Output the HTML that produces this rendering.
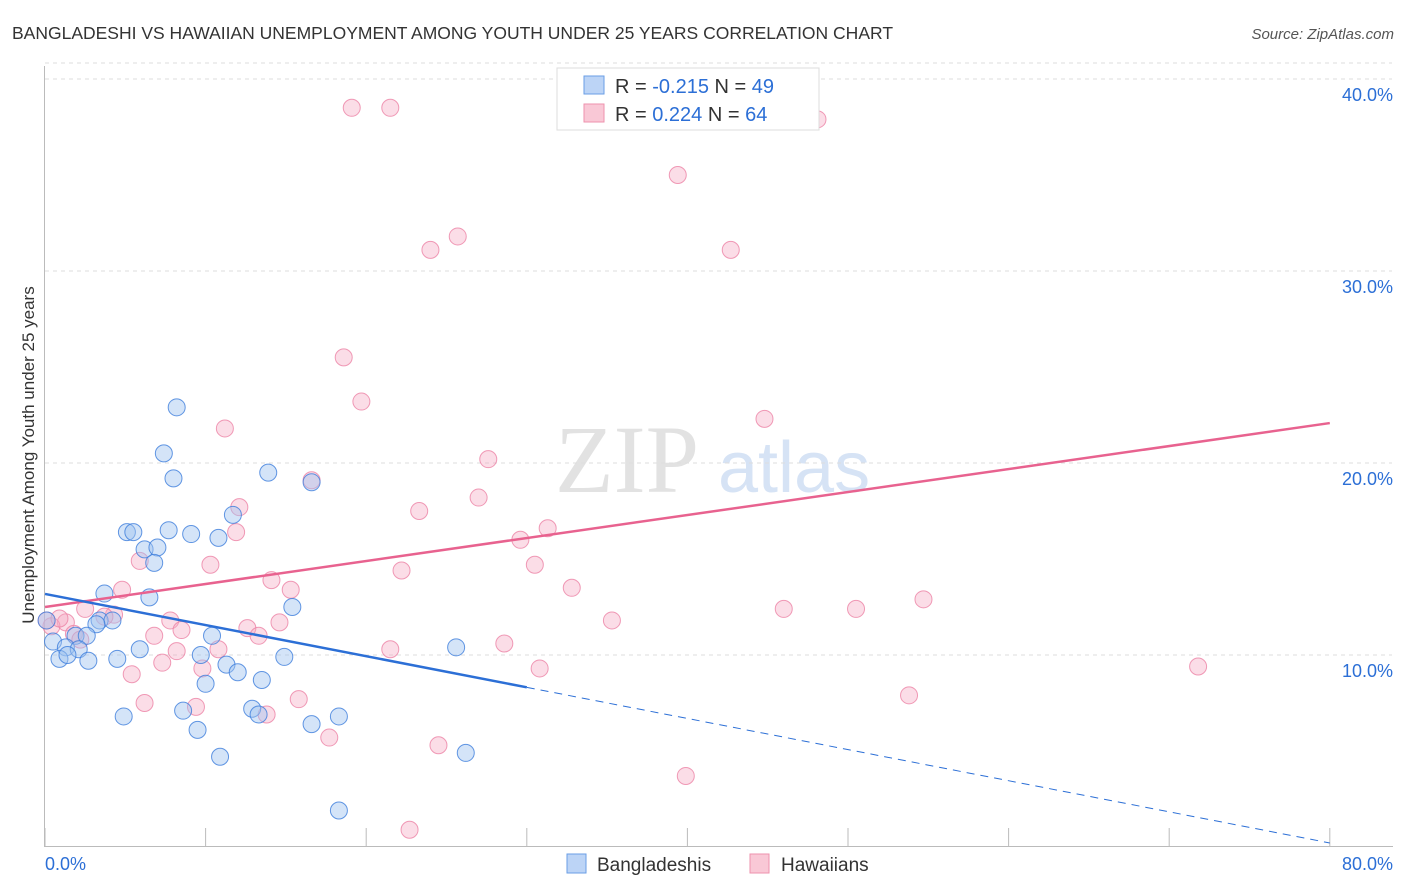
<!DOCTYPE html>
<html><head><meta charset="utf-8"><style>
body{margin:0;background:#fff;font-family:"Liberation Sans",sans-serif;}
#wrap{position:relative;width:1406px;height:892px;overflow:hidden}
</style></head><body>
<div id="wrap">
<svg id="svg" width="1406" height="892">
<text x="12" y="39" font-size="17.5" fill="#333">BANGLADESHI VS HAWAIIAN UNEMPLOYMENT AMONG YOUTH UNDER 25 YEARS CORRELATION CHART</text>
<text x="1394" y="39" font-size="15" fill="#555" font-style="italic" text-anchor="end">Source: ZipAtlas.com</text>
<text x="555" y="492" font-size="96" fill="#e2e2e2" font-family="Liberation Serif">ZIP</text>
<text x="718" y="492" font-size="72" fill="#d6e3f5">atlas</text>
<text transform="translate(34,455) rotate(-90)" font-size="17" fill="#333" text-anchor="middle">Unemployment Among Youth under 25 years</text>
<g id="grid"></g><g id="marks"></g>
<g>
<rect x="557" y="68" width="262" height="62" fill="#fff" stroke="#ddd"/>
<rect x="584" y="76" width="20" height="18" fill="#bcd4f6" stroke="#6a9ee6"/>
<rect x="584" y="104" width="20" height="18" fill="#f9c8d6" stroke="#ee92ad"/>
<text x="615" y="93" font-size="20" fill="#333">R = <tspan fill="#2c6fd6">-0.215</tspan>   N = <tspan fill="#2c6fd6">49</tspan></text>
<text x="615" y="121" font-size="20" fill="#333">R =  <tspan fill="#2c6fd6">0.224</tspan>   N = <tspan fill="#2c6fd6">64</tspan></text>
</g>
<g>
<rect x="567" y="854" width="19" height="19" fill="#bcd4f6" stroke="#6a9ee6"/>
<text x="597" y="871" font-size="19" fill="#333">Bangladeshis</text>
<rect x="750" y="854" width="19" height="19" fill="#f9c8d6" stroke="#ee92ad"/>
<text x="781" y="871" font-size="19" fill="#333">Hawaiians</text>
</g>
<text x="45" y="870" font-size="18" fill="#2c6fd6">0.0%</text>
<text x="1393" y="870" font-size="18" fill="#2c6fd6" text-anchor="end">80.0%</text>
</svg></div>
<script>
const yTicks=[10,20,30,40];
const yTickLabels=["10.0%","20.0%","30.0%","40.0%"];
const xTicks=[0,10,20,30,40,50,60,70,80];
const blueX=[8.2,7.4,8.0,13.9,16.6,11.7,5.1,5.5,7.7,9.1,10.8,6.2,7.0,6.8,3.7,6.5,15.4,3.4,4.2,3.2,1.9,2.6,10.4,0.5,1.3,2.1,9.7,14.9,0.9,1.4,5.9,2.7,4.5,11.3,12.0,25.6,10.0,13.5,8.6,12.9,13.3,4.9,16.6,18.3,9.5,10.9,26.2,18.3,0.1];
const blueY=[22.9,20.5,19.2,19.5,19.0,17.3,16.4,16.4,16.5,16.3,16.1,15.5,15.6,14.8,13.2,13.0,12.5,11.8,11.8,11.6,11.0,11.0,11.0,10.7,10.4,10.3,10.0,9.9,9.8,10.0,10.3,9.7,9.8,9.5,9.1,10.4,8.5,8.7,7.1,7.2,6.9,6.8,6.4,6.8,6.1,4.7,4.9,1.9,11.8];
const pinkX=[19.1,21.5,48.1,39.4,24.0,25.7,42.7,18.6,19.7,44.8,11.2,27.6,27.0,16.6,12.1,11.9,23.3,29.6,31.3,5.9,10.3,30.5,22.2,32.8,14.1,4.8,15.3,35.3,46.0,50.5,54.7,2.5,4.3,3.7,1.3,0.4,0.1,7.8,8.5,12.6,6.8,14.6,13.3,1.8,8.2,10.8,28.6,21.5,7.3,9.8,30.8,5.4,71.8,15.8,9.4,6.2,13.8,53.8,17.7,24.5,39.9,22.7,0.9,2.2];
const pinkY=[38.5,38.5,37.9,35.0,31.1,31.8,31.1,25.5,23.2,22.3,21.8,20.2,18.2,19.1,17.7,16.4,17.5,16.0,16.6,14.9,14.7,14.7,14.4,13.5,13.9,13.4,13.4,11.8,12.4,12.4,12.9,12.4,12.1,12.0,11.7,11.5,11.8,11.8,11.3,11.4,11.0,11.7,11.0,11.1,10.2,10.3,10.6,10.3,9.6,9.3,9.3,9.0,9.4,7.7,7.3,7.5,6.9,7.9,5.7,5.3,3.7,0.9,11.9,10.8];
const pinkLine=[12.5,22.08];
const blueLine=[13.18,0.21];
const blueSolidEnd=30;
const X=v=>45+v*16.06, Y=v=>847-v*19.2;
const NS="http://www.w3.org/2000/svg";
const grid=document.getElementById('grid'), marks=document.getElementById('marks'), svg=document.getElementById('svg');
function mk(tag,attrs,parent){const e=document.createElementNS(NS,tag);for(const k in attrs)e.setAttribute(k,attrs[k]);parent.appendChild(e);return e;}
yTicks.forEach((t,i)=>{
 const l=mk('line',{x1:45,x2:1392,y1:Y(t),y2:Y(t),stroke:'#ddd','stroke-dasharray':'4,4'},grid);
 
 
 const tx=mk('text',{x:1393,y:Y(t)+22,'font-size':18,fill:'#2c6fd6','text-anchor':'end'},grid);
 tx.textContent=yTickLabels[i];
 
 
});
const tl=mk('line',{x1:45,x2:1392,y1:Y(40)-16,y2:Y(40)-16,stroke:'#ddd','stroke-dasharray':'4,4'},grid);


const ya=mk('line',{x1:44.5,x2:44.5,y1:66,y2:846,stroke:'#bbb'},grid);


const xa=mk('line',{x1:44,x2:1393,y1:846.5,y2:846.5,stroke:'#bbb'},grid);


xTicks.forEach(t=>{
 const l=mk('line',{x1:X(t),x2:X(t),y1:828,y2:846,stroke:'#bbb'},grid);
 
 
});
pinkX.forEach((v,i)=>{
 const c=mk('circle',{cx:X(v),cy:Y(pinkY[i]),r:8.5,fill:'rgba(246,170,195,0.4)',stroke:'rgba(236,130,165,0.8)','stroke-width':1},marks);
 
 
});
blueX.forEach((v,i)=>{
 const c=mk('circle',{cx:X(v),cy:Y(blueY[i]),r:8.5,fill:'rgba(160,195,240,0.45)',stroke:'rgba(60,125,220,0.8)','stroke-width':1},marks);
 
 
});
const bAt=x=>blueLine[0]+(blueLine[1]-blueLine[0])*x/80;
const pl=mk('line',{x1:X(0),y1:Y(pinkLine[0]),x2:X(80),y2:Y(pinkLine[1]),stroke:'#e8628f','stroke-width':2.5},marks);


const bl=mk('line',{x1:X(0),y1:Y(bAt(0)),x2:X(blueSolidEnd),y2:Y(bAt(blueSolidEnd)),stroke:'#2c6fd6','stroke-width':2.5},marks);


const bd=mk('line',{x1:X(blueSolidEnd),y1:Y(bAt(blueSolidEnd)),x2:X(80),y2:Y(bAt(80)),stroke:'#2c6fd6','stroke-width':1,'stroke-dasharray':'8,6'},marks);


</script>
</body></html>
